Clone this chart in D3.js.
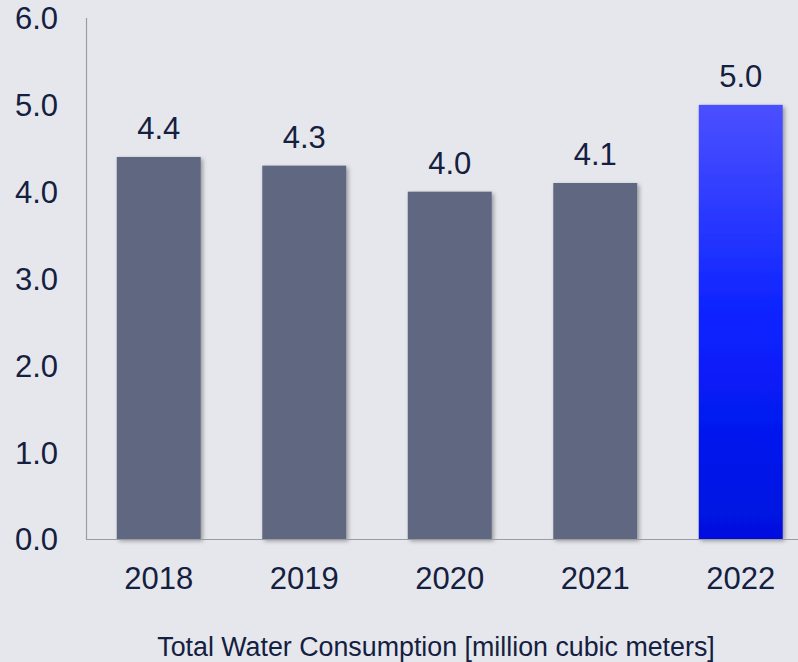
<!DOCTYPE html>
<html>
<head>
<meta charset="utf-8">
<script src="https://cdn.jsdelivr.net/npm/d3@7"></script>
<style>
  html, body { margin: 0; padding: 0; background: #e6e7ec; }
  svg { display: block; }
  text { font-family: "Liberation Sans", Arial, sans-serif; fill: #14203f; }
</style>
</head>
<body>
<svg id="chart" width="798" height="662"></svg>
<script>
const categories = ["2018", "2019", "2020", "2021", "2022"];
const values = [4.4, 4.3, 4.0, 4.1, 5.0];
const yTicks = [0, 1, 2, 3, 4, 5, 6];
const highlight = ["2022"];
const title = "Total Water Consumption [million cubic meters]";

const W = 798, H = 662;
const svg = d3.select("#chart");

const defs = svg.append("defs");
const grad = defs.append("linearGradient").attr("id", "blueGrad")
  .attr("x1", 0).attr("y1", 0).attr("x2", 0).attr("y2", 1);
grad.append("stop").attr("offset", "0%").attr("stop-color", "#4b50ff");
grad.append("stop").attr("offset", "50%").attr("stop-color", "#0a22ff");
grad.append("stop").attr("offset", "100%").attr("stop-color", "#0010de");

const shadow = defs.append("filter").attr("id", "shadow")
  .attr("x", "-10%").attr("y", "-10%").attr("width", "130%").attr("height", "130%");
shadow.append("feDropShadow").attr("dx", 2).attr("dy", 2).attr("stdDeviation", 2)
  .attr("flood-color", "#000").attr("flood-opacity", 0.35);

const x = d3.scaleBand().domain(categories).range([86, 813.5])
  .paddingInner(0.423).paddingOuter(0.2115);
const y = d3.scaleLinear().domain([0, 6]).range([539, 18]);

// bars
svg.append("g").selectAll("rect").data(categories).join("rect")
  .attr("x", d => x(d))
  .attr("y", (d, i) => y(values[i]))
  .attr("width", x.bandwidth())
  .attr("height", (d, i) => y(0) - y(values[i]))
  .attr("fill", d => highlight.includes(d) ? "url(#blueGrad)" : "#5f6880")
  .attr("filter", "url(#shadow)");

// axes lines
svg.append("line").attr("x1", 86.5).attr("x2", 86.5).attr("y1", 18).attr("y2", 539.5)
  .attr("stroke", "#9a9ca4").attr("stroke-width", 1.2);
svg.append("line").attr("x1", 86).attr("x2", W).attr("y1", 539.5).attr("y2", 539.5)
  .attr("stroke", "#9a9ca4").attr("stroke-width", 1.2);

// y tick labels
svg.append("g").selectAll("text").data(yTicks).join("text")
  .attr("x", 58).attr("y", d => y(d)).attr("dy", "0.37em")
  .attr("text-anchor", "end").attr("font-size", 31)
  .text(d => d3.format(".1f")(d));

// x labels
svg.append("g").selectAll("text").data(categories).join("text")
  .attr("x", d => x(d) + x.bandwidth() / 2).attr("y", 589)
  .attr("text-anchor", "middle").attr("font-size", 31)
  .text(d => d);

// value labels
svg.append("g").selectAll("text").data(categories).join("text")
  .attr("x", d => x(d) + x.bandwidth() / 2)
  .attr("y", (d, i) => y(values[i]) - 18)
  .attr("text-anchor", "middle").attr("font-size", 31)
  .text((d, i) => d3.format(".1f")(values[i]));

// title
svg.append("text").attr("x", 436).attr("y", 656)
  .attr("text-anchor", "middle").attr("font-size", 26.8)
  .text(title);
</script>
</body>
</html>
